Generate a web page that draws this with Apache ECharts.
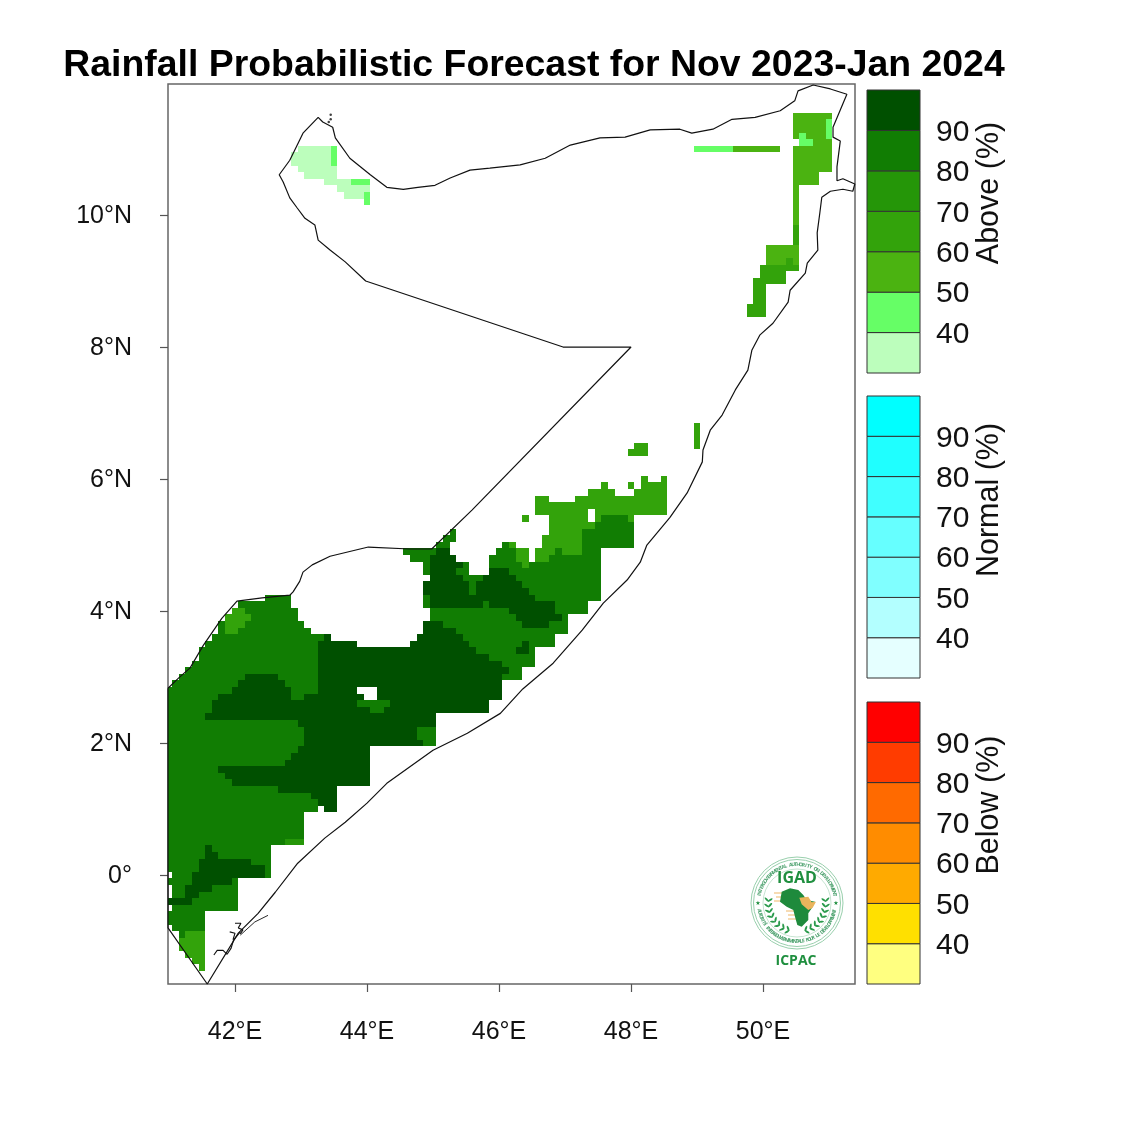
<!DOCTYPE html>
<html>
<head>
<meta charset="utf-8">
<style>html,body{margin:0;padding:0;background:#fff}#c{width:1125px;height:1125px}</style>
<script src="https://cdn.jsdelivr.net/npm/echarts@6/dist/echarts.min.js"></script>
</head>
<body>
<div id="c"></div>
<script>
const titleText = 'Rainfall Probabilistic Forecast for Nov 2023-Jan 2024';
const lonTicks = [42, 44, 46, 48, 50];
const latTicks = [0, 2, 4, 6, 8, 10];
const legendBreaks = [30, 40, 50, 60, 70, 80, 90];
const legendLabels = [40, 50, 60, 70, 80, 90];
const aboveColors  = ['#bcfebc', '#66fe66', '#4bb311', '#33a30b', '#259608', '#117d03', '#005000'];
const normalColors = ['#e5ffff', '#b3ffff', '#80ffff', '#66ffff', '#40ffff', '#1fffff', '#00ffff'];
const belowColors  = ['#ffff80', '#ffe000', '#ffaa00', '#ff8c00', '#ff6a00', '#ff3c00', '#ff0000'];

const W = 40.985; // western edge of the map

// Forecast cells: [latitude, west longitude, east longitude]
const cellsLight = [
  [11.0,42.95,43.45],[10.9,42.85,43.45],[10.8,42.85,43.45],[10.7,42.95,43.55],[10.6,43.05,43.55],
  [10.5,43.35,43.75],[10.4,43.55,44.05],[10.3,43.65,43.95]
];
const cellsBright = [
  [11.0,43.45,43.55],[10.9,43.45,43.55],[10.8,43.45,43.55],[10.5,43.75,44.05],[10.3,43.95,44.05],[10.2,43.95,44.05],
  [11.0,48.95,49.55]
];
const cells50 = [
  [11.5,50.45,51.05],[11.4,50.45,50.95],[11.3,50.45,50.95],[11.2,50.45,50.55],[11.2,50.65,50.95],[11.1,50.75,51.05],
  [11.0,50.45,51.05],[10.9,50.45,51.05],[10.8,50.45,51.05],[10.7,50.45,51.05],[10.6,50.45,50.85],[10.5,50.45,50.85],
  [10.4,50.45,50.55],[10.3,50.45,50.55],[10.2,50.45,50.55],[10.1,50.45,50.55],[10.0,50.45,50.55],[9.9,50.45,50.55],
  [11.0,49.55,50.25],[9.5,50.05,50.55],[9.4,50.05,50.55],[9.3,50.05,50.35],[9.3,50.45,50.55]
];
const cellsBrightNE = [
  [11.4,50.95,51.05],[11.3,50.95,51.05],[11.2,50.95,51.05],[11.2,50.55,50.65],[11.1,50.55,50.75]
];
const cells80 = [
  [5.2,45.25,45.35],[5.1,45.15,45.35],[5.0,45.05,45.25],[5.0,46.05,46.15],[4.9,44.55,45.05],[4.9,45.95,46.25],[4.9,46.85,46.95],
  [4.8,44.65,44.95],[4.8,45.85,46.25],[4.8,46.75,47.55],[4.7,44.85,45.55],[4.7,45.85,47.55],[4.6,44.85,45.55],[4.6,45.85,47.55],
  [4.5,44.95,47.55],[4.4,44.85,47.55],[4.3,44.85,47.55],[4.2,44.85,47.55],[4.1,44.85,47.35],[4.0,44.95,47.35],
  [3.9,44.95,47.05],[3.8,45.05,47.05],[3.7,45.05,47.05],[3.6,45.05,46.85],[3.5,45.05,46.85],[3.4,45.05,46.55],
  [3.3,45.05,46.55],[3.2,45.05,46.55],[3.1,45.05,46.35],[3.0,45.05,46.35],
  [5.4,47.55,47.95],[5.3,47.45,48.05],[5.2,47.25,48.05],[5.1,47.25,48.05],[5.0,47.25,48.05],[4.9,47.25,47.55],
  [4.2,42.45,42.85],[4.1,42.05,42.85],[4.0,41.95,42.95],[3.9,41.85,42.95],[3.8,41.75,43.05],[3.7,41.75,43.15],
  [3.6,41.65,43.35],[3.5,41.55,43.25],[3.4,41.45,43.25],[3.3,41.45,43.25],[3.2,41.35,43.25],[3.1,41.25,43.25],
  [3.0,41.15,43.25],[2.9,41.05,43.25],[2.8,W,43.25],[2.7,W,43.25],[2.6,W,43.25],[2.5,W,43.25],[2.4,W,43.25],
  [2.3,W,43.25],[2.2,W,43.25],[2.1,W,43.25],[2.0,W,43.25],[1.9,W,43.25],[1.8,W,43.25],[1.7,W,43.25],[1.6,W,43.25],
  [1.5,W,43.25],[1.4,W,43.25],[1.3,W,43.25],[1.2,W,43.25],[1.1,W,43.25],[1.0,W,43.25],[0.9,W,43.05],[0.8,W,43.05],
  [0.7,W,43.05],[0.6,W,43.05],[0.5,W,42.75],[0.4,W,42.55],[0.3,W,42.55],[0.2,W,42.55],[0.1,W,42.55],[0.0,41.05,42.55],
  [-0.1,W,42.05],[-0.2,41.05,42.05],[-0.3,41.05,42.05],[-0.4,W,42.05],[-0.5,41.05,42.05],[-0.6,W,41.55],[-0.7,W,41.55],
  [-0.8,41.05,41.55],[-0.9,41.15,41.25]
];
const cells70 = [[0.5,42.75,43.05]];
const cells60 = [
  [6.8,48.95,49.05],[6.7,48.95,49.05],[6.6,48.95,49.05],[6.5,48.95,49.05],[6.5,48.05,48.25],[6.4,47.95,48.25],
  [6.0,48.15,48.25],[6.0,48.45,48.55],[5.9,47.55,47.65],[5.9,47.95,48.05],[5.9,48.15,48.55],[5.8,47.35,47.75],[5.8,48.05,48.55],
  [5.7,46.55,46.75],[5.7,47.15,48.55],[5.6,46.55,48.55],[5.5,46.55,47.35],[5.5,47.45,48.55],[5.4,46.35,46.45],
  [5.4,46.75,47.35],[5.4,47.45,47.55],[5.4,47.95,48.05],[5.3,46.75,47.45],[5.2,46.75,47.25],[5.1,46.65,47.25],
  [5.0,46.65,47.25],[5.0,46.15,46.25],[4.9,46.55,46.85],[4.9,46.95,47.25],[4.9,46.25,46.45],[4.8,46.55,46.75],
  [4.8,46.25,46.45],[4.7,46.35,46.45],
  [4.0,41.95,42.15],[3.9,41.85,42.25],[3.8,41.85,42.15],[3.7,41.85,42.05],
  [-0.9,41.25,41.55],[-1.0,41.15,41.55],[-1.1,41.15,41.55],[-1.2,41.25,41.55],[-1.3,41.35,41.55],[-1.4,41.45,41.55],
  [9.8,50.45,50.55],[9.7,50.45,50.55],[9.6,50.45,50.55],[9.3,50.35,50.45],[9.2,49.95,50.55],[9.1,49.95,50.35],
  [9.0,49.85,50.35],[8.9,49.85,50.05],[8.8,49.85,50.05],[8.7,49.85,50.05],[8.6,49.75,50.05],[8.5,49.75,50.05]
];
const cells90 = [
  [4.9,45.05,45.25],[4.8,44.95,45.35],[4.7,44.95,45.45],[4.6,44.95,45.35],[4.6,45.85,46.15],[4.5,44.95,45.45],[4.5,45.75,46.25],
  [4.4,44.85,45.55],[4.4,45.65,46.35],[4.3,44.85,45.55],[4.3,45.65,46.45],[4.2,44.95,46.55],[4.1,44.95,45.75],[4.1,45.85,46.85],
  [4.0,46.15,46.85],[3.9,46.25,46.95],[3.8,46.35,46.75],[3.5,46.35,46.45],[3.4,46.25,46.45],
  [3.8,44.85,45.15],[3.7,44.85,45.35],[3.6,44.75,45.45],[3.6,43.35,43.45],[3.5,44.65,45.55],[3.5,43.25,43.85],
  [3.4,43.25,45.65],[3.3,43.25,45.85],[3.2,43.25,46.05],[3.1,43.25,46.15],[3.0,43.25,46.05],[3.0,42.15,42.65],
  [2.9,43.25,46.05],[2.9,42.05,42.75],[2.8,43.25,43.85],[2.8,44.15,46.05],[2.8,41.95,42.85],
  [2.7,43.05,43.95],[2.7,44.15,46.05],[2.7,41.75,42.85],[2.6,41.65,45.85],[2.5,41.65,45.85],[2.4,41.55,45.05],
  [2.3,42.95,45.05],[2.2,43.05,44.75],[2.1,43.05,44.75],[2.0,43.05,44.85],[1.9,42.95,44.05],[1.8,42.85,44.05],
  [1.7,42.75,44.05],[1.6,41.75,44.05],[1.5,41.85,44.05],[1.4,41.95,44.05],[1.3,42.65,43.55],[1.2,43.15,43.55],
  [1.1,43.25,43.55],[1.0,43.35,43.55],
  [0.4,41.55,41.65],[0.3,41.55,41.75],[0.2,41.45,42.25],[0.1,41.45,42.45],[0.0,41.35,42.45],[-0.1,41.35,41.95],
  [-0.2,41.25,41.65],[-0.3,41.25,41.45],[-0.4,W,41.35]
];
const cellsOver80 = [[2.6,43.85,44.35],[2.5,44.05,44.25],[2.2,44.75,45.05],[2.1,44.75,45.05],[2.0,44.85,45.05]];

// Somalia outline: [longitude, latitude]
const coast = [
  [W,2.83],[41.14,2.98],[41.32,3.14],[41.52,3.48],[41.80,3.89],[42.03,4.15],[42.41,4.20],[42.83,4.24],[42.88,4.29],[42.98,4.45],
  [43.03,4.59],[43.17,4.70],[43.44,4.83],[44.02,4.97],[44.65,4.94],[44.98,4.94],[45.59,5.53],[48.0,8.0],[47.30,8.0],[46.97,8.0],
  [43.98,9.0],[43.67,9.29],[43.44,9.47],[43.26,9.62],[43.21,9.85],[43.06,9.95],[42.94,10.11],[42.83,10.26],[42.73,10.5],[42.67,10.61],
  [42.83,10.83],[43.03,11.24],[43.26,11.48],[43.33,11.41],[43.48,11.33],[43.52,11.17],[43.74,10.86],[44.05,10.61],[44.30,10.42],
  [44.55,10.39],[44.77,10.42],[45.03,10.45],[45.26,10.56],[45.56,10.68],[45.86,10.71],[46.32,10.76],[46.70,10.86],[47.08,11.06],
  [47.53,11.17],[47.91,11.18],[48.29,11.29],[48.74,11.30],[48.92,11.24],[49.24,11.30],[49.53,11.45],[49.88,11.48],[50.26,11.58],
  [50.48,11.73],[50.53,11.88],[50.76,11.97],[51.02,11.91],[51.27,11.83],[51.06,11.33],[51.06,11.18],[51.17,11.12],[51.12,10.73],
  [51.12,10.52],[51.21,10.55],[51.39,10.47],[51.36,10.36],[51.21,10.39],[51.02,10.36],[50.89,10.27],[50.86,10.03],[50.82,9.73],
  [50.83,9.47],[50.67,9.27],[50.64,9.12],[50.41,8.86],[50.38,8.68],[50.15,8.36],[49.95,8.18],[49.83,7.95],[49.77,7.65],[49.58,7.35],
  [49.38,6.97],[49.20,6.74],[49.09,6.44],[49.08,6.26],[48.85,5.79],[48.59,5.42],[48.24,5.0],[48.14,4.74],[47.94,4.47],[47.58,4.12],
  [47.26,3.71],[46.82,3.21],[46.36,2.82],[46.02,2.45],[45.52,2.15],[45.0,1.89],[44.65,1.64],[44.30,1.39],[44.0,1.09],[43.67,0.80],
  [43.36,0.56],[42.95,0.18],[42.61,-0.26],[42.35,-0.58],[42.05,-0.88],[41.58,-1.65],[W,-0.80]
];
const islandA = [[41.68,-1.21],[41.73,-1.14],[41.82,-1.14],[41.88,-1.20],[41.94,-1.11],[41.98,-0.98],[42.08,-0.86]];
const islandB = [[41.92,-0.86],[42.0,-0.88],[41.97,-0.98]];
const islandC = [[42.0,-0.73],[42.09,-0.73],[42.05,-0.80],[42.12,-0.83],[42.08,-0.89]];
const islandD = [[42.08,-0.91],[42.30,-0.71],[42.50,-0.61]];
const islandDots = [[43.45,11.52],[43.45,11.45],[43.42,11.41]];

const font = '"Liberation Sans", Arial, sans-serif';

function cellItem(params, api) {
  const lat = api.value(0), west = api.value(1), east = api.value(2);
  const a = api.coord([west, lat + 0.05]);
  const b = api.coord([east, lat - 0.05]);
  const x0 = Math.round(a[0]), y0 = Math.round(a[1]);
  return {
    type: 'rect',
    shape: { x: x0, y: y0, width: Math.round(b[0]) - x0, height: Math.round(b[1]) - y0 },
    style: { fill: api.visual('color') }
  };
}
function cellSeries(rows, color) {
  return { type: 'custom', xAxisIndex: 0, yAxisIndex: 0, data: rows, renderItem: cellItem, encode: { x: [1, 2], y: 0 },
           itemStyle: { color: color }, silent: true, clip: true, animation: false };
}
function coastSeries(points, width) {
  return { type: 'line', xAxisIndex: 0, yAxisIndex: 0, data: points, showSymbol: false, clip: false, silent: true, z: 5,
           lineStyle: { color: '#111', width: width }, animation: false };
}
function legendSeries(axisIndex, colors) {
  return {
    type: 'custom', xAxisIndex: axisIndex, yAxisIndex: axisIndex, silent: true, animation: false,
    data: legendBreaks.map(function (v, i) { return [v, v + 10, colors[i]]; }),
    encode: { y: [0, 1] },
    renderItem: function (params, api) {
      const a = api.coord([0, api.value(1)]);
      const b = api.coord([1, api.value(0)]);
      return { type: 'rect', shape: { x: a[0], y: a[1], width: b[0] - a[0], height: b[1] - a[1] },
               style: { fill: colors[params.dataIndex], stroke: '#333', lineWidth: 1 } };
    }
  };
}

const grids = [
  { left: 168, top: 84, width: 687, height: 900, show: true, borderColor: '#666', borderWidth: 1.5, backgroundColor: '#fff' },
  { left: 867, top: 90, width: 53, height: 283 },
  { left: 867, top: 396, width: 53, height: 282 },
  { left: 867, top: 702, width: 53, height: 282 }
];
const xAxes = [{
  type: 'value', gridIndex: 0, min: W, max: 51.393, position: 'bottom',
  axisLine: { show: false, onZero: false }, splitLine: { show: false },
  axisTick: { show: true, length: 8, customValues: lonTicks, lineStyle: { color: '#555', width: 1.2 } },
  axisLabel: { customValues: lonTicks, margin: 36, fontSize: 25, color: '#111', fontFamily: font,
               formatter: function (v) { return v + '°E'; } }
}];
const yAxes = [{
  type: 'value', gridIndex: 0, min: -1.65, max: 11.985, position: 'left',
  axisLine: { show: false, onZero: false }, splitLine: { show: false },
  axisTick: { show: true, length: 8, customValues: latTicks, lineStyle: { color: '#555', width: 1.2 } },
  axisLabel: { customValues: latTicks, margin: 36, fontSize: 25, color: '#111', fontFamily: font, verticalAlign: 'top', lineHeight: 2,
               formatter: function (v) { return v === 0 ? '0°' : v + '°N'; } }
}];
[1, 2, 3].forEach(function (g) {
  xAxes.push({ type: 'value', gridIndex: g, min: 0, max: 1, show: false });
  yAxes.push({
    type: 'value', gridIndex: g, min: 30, max: 100, interval: 10, position: 'right',
    axisLine: { show: false }, axisTick: { show: false }, splitLine: { show: false },
    axisLabel: { customValues: legendLabels, margin: 16, fontSize: 30, color: '#111', fontFamily: font, verticalAlign: 'top', lineHeight: 4 }
  });
});

// Logo and legend captions
const graphicEls = [];
function axisCaption(text, y) {
  graphicEls.push({ type: 'text', x: 989.5, y: y, rotation: Math.PI / 2, z: 10,
    style: { text: text, font: '30.5px ' + font, fill: '#111', align: 'center', verticalAlign: 'middle' } });
}
axisCaption('Above (%)', 193);
axisCaption('Normal (%)', 500);
axisCaption('Below (%)', 805);

const LX = 797, LY = 903;
const ringGreen = '#8cc9a3', logoGreen = '#1f8f3f';
[46, 43.5, 34].forEach(function (r, i) {
  graphicEls.push({ type: 'circle', shape: { cx: LX, cy: LY, r: r }, z: 10,
    style: { fill: i === 0 ? '#fff' : 'none', stroke: ringGreen, lineWidth: i === 2 ? 0.5 : 0.9 } });
});
function arcText(text, startDeg, endDeg, r, flip) {
  const n = text.length;
  for (let i = 0; i < n; i++) {
    const deg = startDeg + (endDeg - startDeg) * (i + 0.5) / n;
    const t = deg * Math.PI / 180;
    graphicEls.push({ type: 'text', x: LX + r * Math.cos(t), y: LY + r * Math.sin(t), z: 11,
      rotation: flip ? -(t - Math.PI / 2) : -(t + Math.PI / 2),
      style: { text: text[i], font: 'bold 5px "Open Sans", sans-serif', fill: '#4aa06c', align: 'center', verticalAlign: 'middle' } });
  }
}
arcText('INTERGOVERNMENTAL AUTHORITY ON DEVELOPMENT', -170, -10, 38.5, false);
arcText('AUTORITÉ INTERGOUVERNEMENTALE POUR LE DÉVELOPPEMENT', 170, 10, 38.5, true);
graphicEls.push({ type: 'text', x: LX, y: 878, z: 12, style: { text: 'IGAD', font: 'bold 16px "Open Sans", sans-serif', fill: logoGreen, align: 'center', verticalAlign: 'middle' } });
graphicEls.push({ type: 'text', x: 796, y: 961, z: 12, style: { text: 'ICPAC', font: 'bold 14px "Open Sans", sans-serif', fill: logoGreen, align: 'center', verticalAlign: 'middle' } });
graphicEls.push({ type: 'polygon', z: 12, shape: { points: [[781.7,891.7],[790,888.3],[798.3,890],[803.3,895],[806.7,900],[815,901.7],[811.7,908.3],[808.3,913.3],[808.3,920],[801.7,926.7],[797.3,925],[795,916.7],[793.3,910],[786.7,906.7],[780,901.7]] }, style: { fill: '#1e8a3c' } });
graphicEls.push({ type: 'polygon', z: 13, shape: { points: [[799.3,897.7],[808.3,896.7],[811.7,902.3],[816,901.7],[812.7,907.7],[808.3,910],[801.7,904.3]] }, style: { fill: '#eab45c' } });
[[774,893,782],[776,897,782],[774,901,781],[786,911,795],[788,915,796],[788,919,796]].forEach(function (s) {
  graphicEls.push({ type: 'line', z: 11, shape: { x1: s[0], y1: s[1], x2: s[2], y2: s[1] }, style: { stroke: '#f3c88a', lineWidth: 1.3 } });
});
for (let k = 0; k < 8; k++) {
  [-1, 1].forEach(function (side) {
    const deg = 8 + k * 11;
    const t = deg * Math.PI / 180 - 0.25;
    [0, 1].forEach(function (j) {
      const r = 28.5 + j * 3.5 - 1.5;
      const px = LX + side * r * Math.cos(t), py = LY + r * Math.sin(t);
      graphicEls.push({ type: 'ellipse', x: px, y: py, z: 11, rotation: side * (t + (j ? -0.7 : 0.7) + Math.PI / 2) * -1,
        shape: { cx: 0, cy: 0, rx: 1, ry: 2.8 }, style: { fill: '#2a9a4c' } });
    });
  });
}
graphicEls.push({ type: 'text', x: LX - 39, y: LY, z: 12, style: { text: '★', font: '6px "DejaVu Sans"', fill: logoGreen, align: 'center', verticalAlign: 'middle' } });
graphicEls.push({ type: 'text', x: LX + 39, y: LY, z: 12, style: { text: '★', font: '6px "DejaVu Sans"', fill: logoGreen, align: 'center', verticalAlign: 'middle' } });

const option = {
  animation: false,
  backgroundColor: '#fff',
  title: { text: titleText, left: 529, top: 42, textAlign: 'center',
           textStyle: { fontFamily: font, fontWeight: 'bold', fontSize: 37.4, color: '#000' } },
  grid: grids, xAxis: xAxes, yAxis: yAxes,
  series: [
    cellSeries(cellsLight, aboveColors[0]),
    cellSeries(cellsBright, aboveColors[1]),
    cellSeries(cells50, aboveColors[2]),
    cellSeries(cellsBrightNE, aboveColors[1]),
    cellSeries(cells80, aboveColors[5]),
    cellSeries(cells70, aboveColors[4]),
    cellSeries(cells60, aboveColors[3]),
    cellSeries(cells90, aboveColors[6]),
    cellSeries(cellsOver80, aboveColors[5]),
    coastSeries(coast.concat([coast[0]]), 1.2),
    coastSeries(islandA, 1.1), coastSeries(islandB, 1.1), coastSeries(islandC, 1.1), coastSeries(islandD, 0.9),
    { type: 'scatter', xAxisIndex: 0, yAxisIndex: 0, data: islandDots, symbolSize: 2.5, itemStyle: { color: '#111' }, silent: true, z: 5 },
    legendSeries(1, aboveColors),
    legendSeries(2, normalColors),
    legendSeries(3, belowColors)
  ],
  graphic: graphicEls
};
const chart = echarts.init(document.getElementById('c'), null, { renderer: 'canvas' });
chart.setOption(option);
</script>
</body>
</html>
